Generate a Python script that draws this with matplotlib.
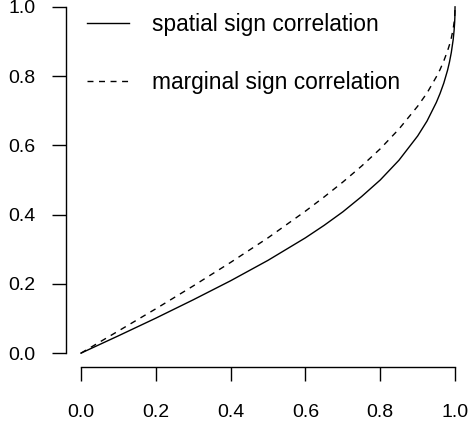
import matplotlib
matplotlib.use("Agg")
import matplotlib.pyplot as plt

plt.rcParams['font.family'] = ['Liberation Sans', 'DejaVu Sans']

# correlation values
rho = [0.0, 0.1, 0.2, 0.3, 0.4, 0.5, 0.6, 0.65, 0.7, 0.75, 0.8, 0.85, 0.9, 0.925,
       0.95, 0.96, 0.97, 0.98, 0.985, 0.99, 0.995, 0.9975, 0.999, 0.9995, 1.0]
spatial = [0.0, 0.050, 0.101, 0.154, 0.209, 0.268, 0.333, 0.369, 0.408, 0.452, 0.500, 0.557, 0.627, 0.670,
           0.724, 0.750, 0.780, 0.817, 0.840, 0.868, 0.905, 0.932, 0.956, 0.969, 1.0]
marginal = [0.0, 0.064, 0.128, 0.194, 0.262, 0.333, 0.410, 0.451, 0.494, 0.540, 0.590, 0.647, 0.713, 0.751,
            0.798, 0.819, 0.844, 0.873, 0.890, 0.910, 0.936, 0.955, 0.972, 0.980, 1.0]
labels = ["spatial sign correlation", "marginal sign correlation"]
ticks = [0.0, 0.2, 0.4, 0.6, 0.8, 1.0]

W, H = 469, 428
fig = plt.figure(figsize=(W / 100, H / 100), dpi=100)
# plot region like R's: left edge at 66px, bottom at 367px, runs past top/right
ax = fig.add_axes([66 / W, (H - 367) / H, (470 - 66) / W, (367 + 7) / H])

ax.plot(rho, spatial, color="black", lw=1.0, label=labels[0])
ax.plot(rho, marginal, color="black", lw=1.0, dashes=(4.3, 4.0), label=labels[1])

ax.set_xlim(-0.04, 1.04)
ax.set_ylim(-0.04, 1.04)
ax.set_xticks(ticks)
ax.set_yticks(ticks)
ax.set_xticklabels(["%.1f" % t for t in ticks])
ax.set_yticklabels(["%.1f" % t for t in ticks])

for s in ["top", "right"]:
    ax.spines[s].set_visible(False)
ax.spines["left"].set_bounds(0, 1)
ax.spines["bottom"].set_bounds(0, 1)
for s in ["left", "bottom"]:
    ax.spines[s].set_linewidth(1.0)
ax.tick_params(direction="out", length=9.8, width=1.0, labelsize=14)
ax.tick_params(axis="x", pad=17)
ax.tick_params(axis="y", pad=12)

leg = ax.legend(loc="upper left", bbox_to_anchor=(87 / W, 1 - 13 / H),
                bbox_transform=fig.transFigure, frameon=False, fontsize=16.4,
                handlelength=1.84, handletextpad=1.0, labelspacing=1.52,
                borderpad=0, borderaxespad=0)

fig.savefig("out.png", dpi=100)
